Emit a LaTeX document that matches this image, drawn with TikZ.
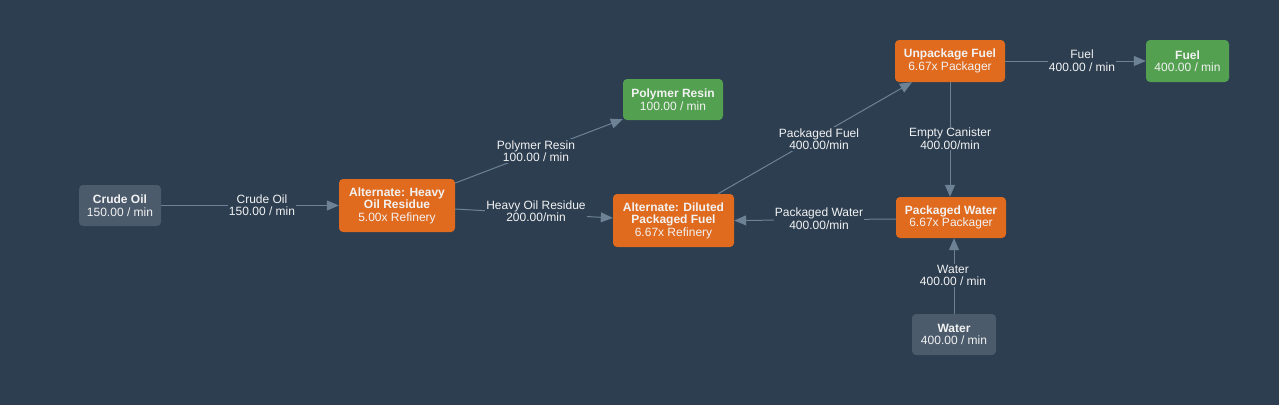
\documentclass[tikz,border=0pt]{standalone}
\usepackage{fontspec}
\setmainfont{Liberation Sans}
\usetikzlibrary{arrows.meta}
\definecolor{bg}{HTML}{2C3E50}
\definecolor{orng}{HTML}{E06A1E}
\definecolor{grn}{HTML}{52A050}
\definecolor{gry}{HTML}{4B5B6C}
\definecolor{edgec}{HTML}{6E8296}
\definecolor{txt}{HTML}{F2F2F2}
\tikzset{
  box/.style={rounded corners=4pt, text=txt, align=center, inner sep=0pt,
    font=\fontsize{12}{12.5}\selectfont},
  proc/.style={box, fill=orng},
  outp/.style={box, fill=grn},
  inp/.style={box, fill=gry},
  conn/.style={draw=edgec, line width=1pt, -{Triangle[length=12pt,width=10pt]}},
  lbl/.style={fill=bg, text=txt, align=center, inner sep=1pt,
    font=\fontsize{12}{12.5}\selectfont}
}
\begin{document}
\begin{tikzpicture}[x=1pt,y=-1pt]
\fill[bg] (0,0) rectangle (1279,405);
\useasboundingbox (0,0) rectangle (1279,405);
\node[inp, minimum width=82pt, minimum height=41pt] (crude) at (120,205.5) {\textbf{Crude Oil}\\150.00 / min};
\node[proc, minimum width=116pt, minimum height=53pt] (heavy) at (397,205.5) {\textbf{Alternate: Heavy}\\\textbf{Oil Residue}\\5.00x Refinery};
\node[outp, minimum width=100pt, minimum height=41pt] (resin) at (673,99.5) {\textbf{Polymer Resin}\\100.00 / min};
\node[proc, minimum width=121pt, minimum height=53pt] (dil) at (673.5,220.5) {\textbf{Alternate: Diluted}\\\textbf{Packaged Fuel}\\6.67x Refinery};
\node[proc, minimum width=110pt, minimum height=42pt] (unp) at (950,61) {\textbf{Unpackage Fuel}\\6.67x Packager};
\node[outp, minimum width=83pt, minimum height=42pt] (fuel) at (1187.5,61) {\textbf{Fuel}\\400.00 / min};
\node[proc, minimum width=110pt, minimum height=41pt] (pw) at (951,217.5) {\textbf{Packaged Water}\\6.67x Packager};
\node[inp, minimum width=84pt, minimum height=41pt] (water) at (954,334.5) {\textbf{Water}\\400.00 / min};

\draw[conn] (crude.east) -- (heavy.west);
\node[lbl] (la) at (262,205) {Crude Oil\\150.00 / min};
\draw[conn] ([yshift=22.5pt]heavy.east) -- ([yshift=1pt]resin.south west);
\node[lbl] (lb) at (536,151) {Polymer Resin\\100.00 / min};
\draw[conn] ([yshift=-3.5pt]heavy.east) -- ([yshift=2.5pt]dil.west);
\node[lbl] (lc) at (536,211) {Heavy Oil Residue\\200.00/min};
\draw[conn] ([xshift=44.5pt]dil.north) -- ([xshift=-38pt]unp.south);
\node[lbl] (ld) at (819,139) {Packaged Fuel\\400.00/min};
\draw[conn] (unp.east) -- (fuel.west);
\node[lbl] (le) at (1082,60.5) {Fuel\\400.00 / min};
\draw[conn] (unp.south) -- ([xshift=-1pt]pw.north);
\node[lbl] (lf) at (950,138.5) {Empty Canister\\400.00/min};
\draw[conn] ([yshift=-1.5pt]pw.west) -- (dil.east);
\node[lbl] (lg) at (819,218.5) {Packaged Water\\400.00/min};
\draw[conn] (water.north) -- ([xshift=3pt]pw.south);
\node[lbl] (lh) at (953,275.5) {Water\\400.00 / min};
\end{tikzpicture}
\end{document}
